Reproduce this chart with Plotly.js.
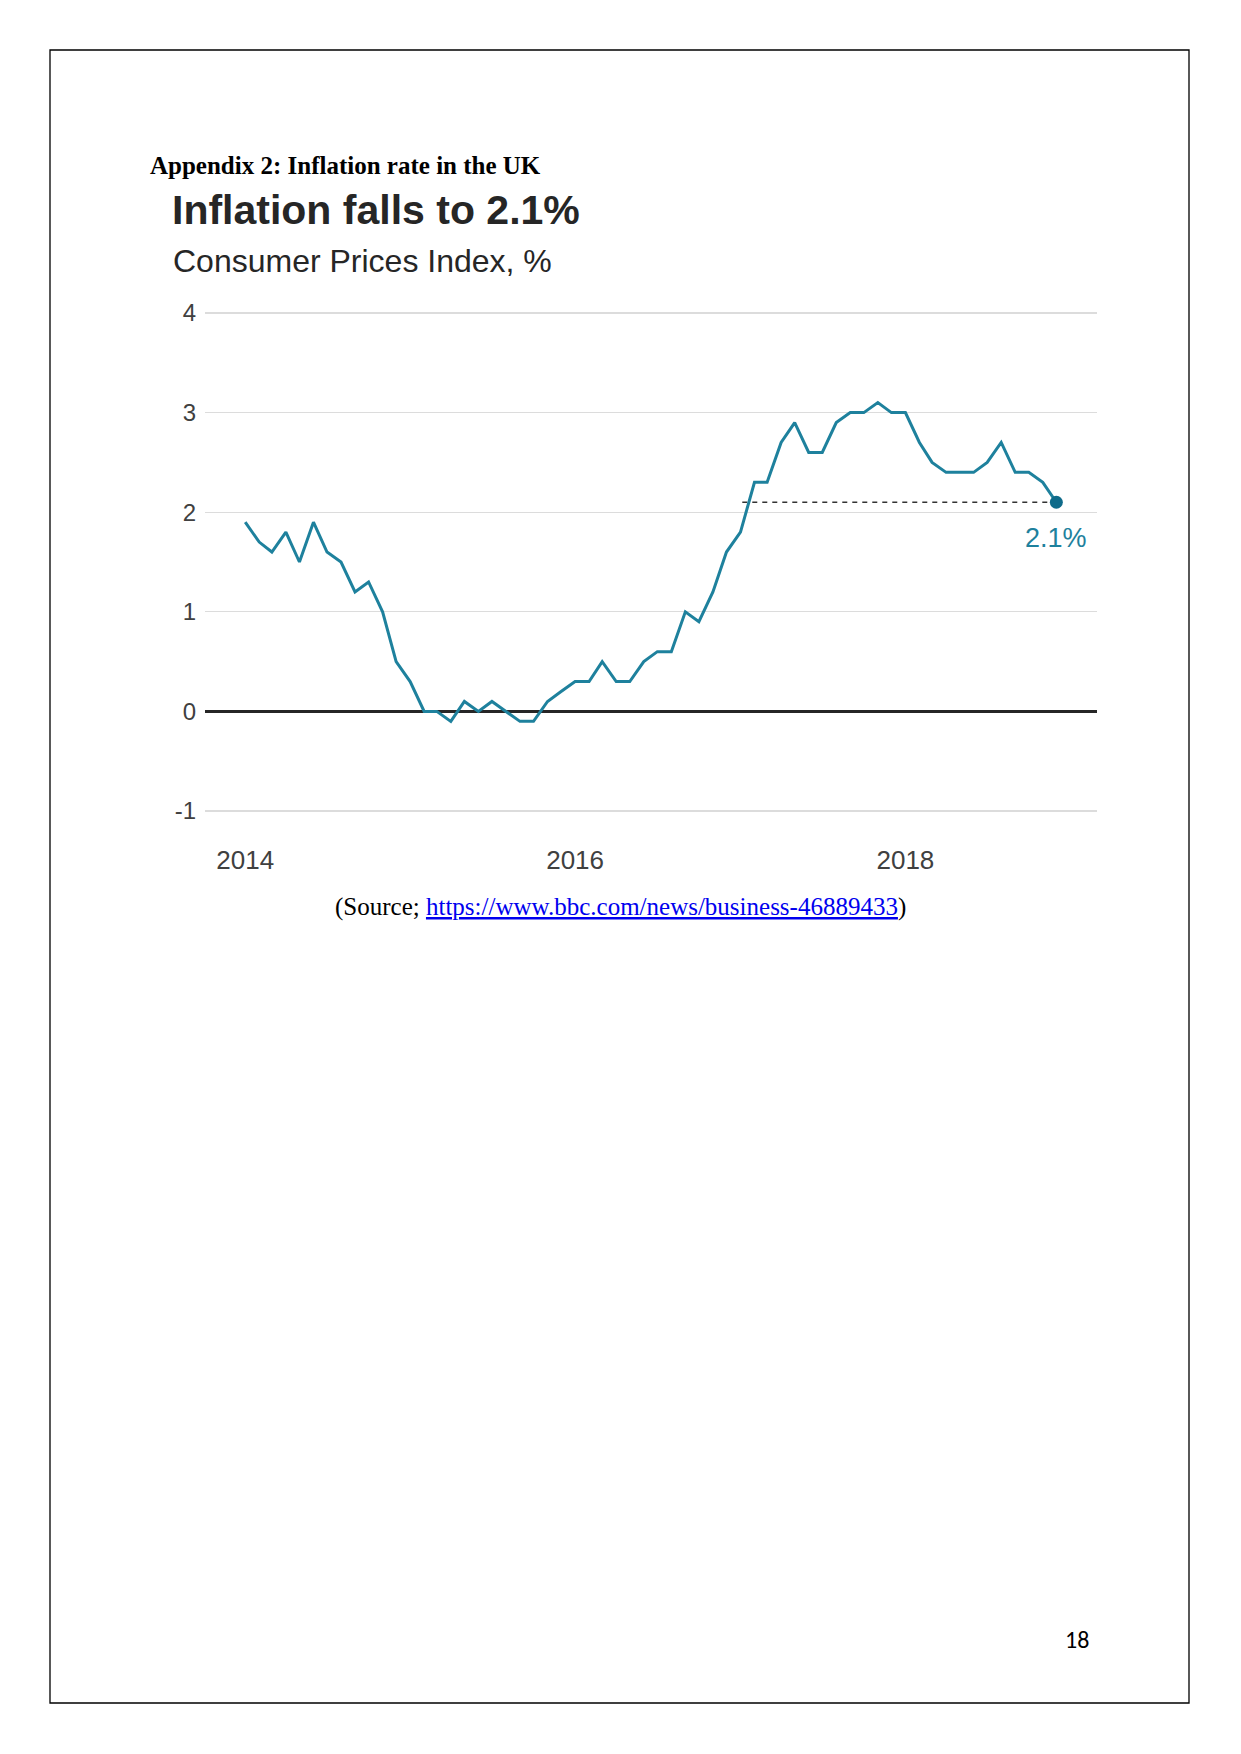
<!DOCTYPE html>
<html>
<head>
<meta charset="utf-8">
<script src="https://cdn.plot.ly/plotly-3.0.1.min.js"></script>
<style>
  html, body { margin: 0; padding: 0; background: #fff; }
  #chart { width: 1241px; height: 1754px; }
</style>
</head>
<body>
<div id="chart"></div>
<script>
// ---- Data (UK CPI annual rate, %, monthly Jan 2014 – Dec 2018) ----
const years = [2014, 2015, 2016, 2017, 2018];
const cpi2014 = [1.9, 1.7, 1.6, 1.8, 1.5, 1.9, 1.6, 1.5, 1.2, 1.3, 1.0, 0.5];
const cpi2015 = [0.3, 0.0, 0.0, -0.1, 0.1, 0.0, 0.1, 0.0, -0.1, -0.1, 0.1, 0.2];
const cpi2016 = [0.3, 0.3, 0.5, 0.3, 0.3, 0.5, 0.6, 0.6, 1.0, 0.9, 1.2, 1.6];
const cpi2017 = [1.8, 2.3, 2.3, 2.7, 2.9, 2.6, 2.6, 2.9, 3.0, 3.0, 3.1, 3.0];
const cpi2018 = [3.0, 2.7, 2.5, 2.4, 2.4, 2.4, 2.5, 2.7, 2.4, 2.4, 2.3, 2.1];

const yTickVals = [-1, 0, 1, 2, 3, 4];
const xTickVals = ['2014-01-01', '2016-01-01', '2018-01-01'];
const xTickText = ['2014', '2016', '2018'];

const latestLabel = '2.1%';
const refLineStart = '2017-01-05';

// ---- Build series ----
const cpiByYear = [cpi2014, cpi2015, cpi2016, cpi2017, cpi2018];
const dates = [];
const values = [];
years.forEach((yr, i) => {
  cpiByYear[i].forEach((v, m) => {
    dates.push(yr + '-' + String(m + 1).padStart(2, '0') + '-01');
    values.push(v);
  });
});
const lastDate = dates[dates.length - 1];
const lastVal = values[values.length - 1];

const W = 1241, H = 1754;
const px = x => x / W;
const py = y => 1 - y / H;

const teal = '#1e819d';

const traces = [
  {
    x: [refLineStart, lastDate],
    y: [lastVal, lastVal],
    mode: 'lines',
    line: { color: '#333333', width: 1.5, dash: '5px,5px' },
    hoverinfo: 'skip',
    showlegend: false
  },
  {
    x: dates,
    y: values,
    mode: 'lines',
    line: { color: teal, width: 3 },
    showlegend: false
  },
  {
    x: [lastDate],
    y: [lastVal],
    mode: 'markers',
    marker: { color: '#0f6b8a', size: 13 },
    showlegend: false
  }
];

const chartFont = '"Liberation Sans", Arial, Helvetica, sans-serif';
const serif = '"Liberation Serif", "Times New Roman", serif';

const layout = {
  width: W,
  height: H,
  margin: { l: 0, r: 0, t: 0, b: 0 },
  paper_bgcolor: '#ffffff',
  plot_bgcolor: '#ffffff',
  font: { family: chartFont, color: '#404040' },
  showlegend: false,
  xaxis: {
    type: 'date',
    domain: [px(205), px(1097)],
    range: ['2013-10-04', '2019-03-01'],
    tickvals: xTickVals,
    ticktext: xTickText,
    showgrid: false,
    zeroline: false,
    showline: false,
    ticks: '',
    ticklabelstandoff: 29,
    tickfont: { family: chartFont, size: 26, color: '#404040' }
  },
  yaxis: {
    domain: [py(813), py(311)],
    range: [-1.02, 4.02],
    tickvals: yTickVals,
    ticktext: yTickVals.map(String),
    showgrid: true,
    gridcolor: '#dcdcdc',
    gridwidth: 1.3,
    zeroline: true,
    zerolinecolor: '#262626',
    zerolinewidth: 2.8,
    showline: false,
    ticks: '',
    ticklabelstandoff: 8,
    tickfont: { family: chartFont, size: 24, color: '#404040' }
  },
  shapes: [
    {
      type: 'rect', xref: 'paper', yref: 'paper',
      x0: px(50), x1: px(1189), y0: py(1703), y1: py(50),
      line: { color: '#000000', width: 1.3 },
      fillcolor: 'rgba(0,0,0,0)'
    }
  ],
  annotations: [
    {
      xref: 'paper', yref: 'paper',
      x: px(148), y: py(165), xanchor: 'left', yanchor: 'middle',
      text: '<b>Appendix 2: Inflation rate in the UK</b>',
      showarrow: false,
      font: { family: serif, size: 25, color: '#000000' }
    },
    {
      xref: 'paper', yref: 'paper',
      x: px(170), y: py(210), xanchor: 'left', yanchor: 'middle',
      text: '<b>Inflation falls to 2.1%</b>',
      showarrow: false,
      font: { family: chartFont, size: 41, color: '#262626' }
    },
    {
      xref: 'paper', yref: 'paper',
      x: px(171), y: py(261), xanchor: 'left', yanchor: 'middle',
      text: 'Consumer Prices Index, %',
      showarrow: false,
      font: { family: chartFont, size: 32, color: '#262626' }
    },
    {
      xref: 'x', yref: 'y',
      x: lastDate, y: lastVal, xanchor: 'center', yanchor: 'middle',
      yshift: -36,
      text: latestLabel,
      showarrow: false,
      font: { family: chartFont, size: 27, color: teal }
    },
    {
      xref: 'paper', yref: 'paper',
      x: px(620), y: py(907), xanchor: 'center', yanchor: 'middle',
      text: '(Source; <span style="color:#0000ee;text-decoration:underline">https://www.bbc.com/news/business-46889433</span>)',
      showarrow: false,
      font: { family: serif, size: 25, color: '#000000' }
    },
    {
      xref: 'paper', yref: 'paper',
      x: px(1077), y: py(1639), xanchor: 'center', yanchor: 'middle',
      text: '18',
      showarrow: false,
      font: { family: '"Carlito", "Liberation Sans", Arial, sans-serif', size: 24, color: '#000000' }
    }
  ]
};

Plotly.newPlot('chart', traces, layout, { staticPlot: true, displayModeBar: false });
</script>
</body>
</html>
